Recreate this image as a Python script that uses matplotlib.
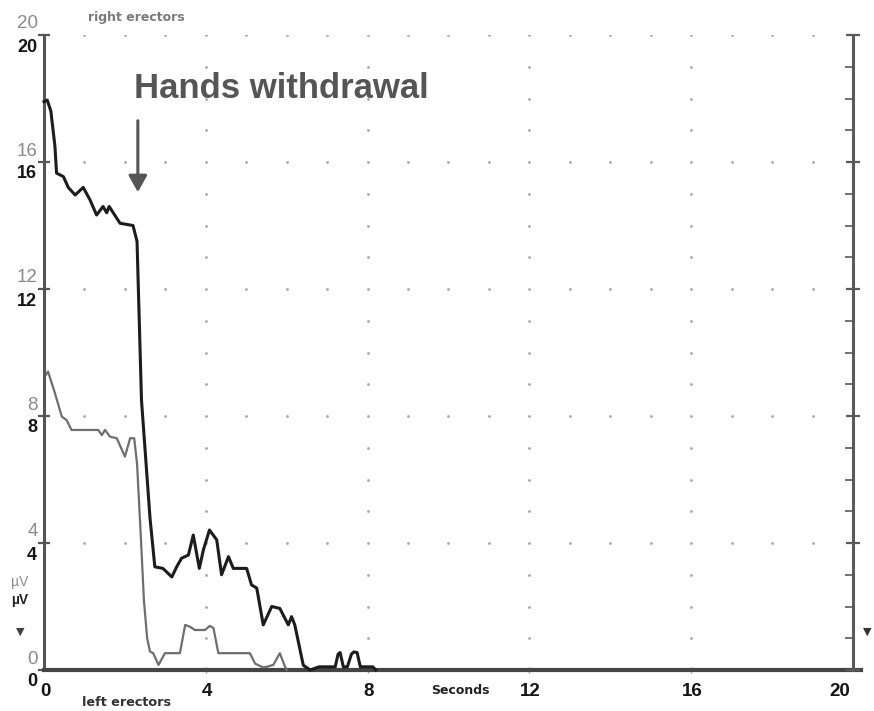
"""
EMG of the erector spinae before and after hands withdrawal.
Redraws the two traces (right / left erectors) on a dotted grid.
"""

import numpy as np
import matplotlib
matplotlib.use("Agg")
import matplotlib.pyplot as plt

W, H = 874, 711

# right erectors (dark trace), seconds / microvolts
right_t = [0.0, 0.08, 0.17, 0.27, 0.31, 0.48, 0.60, 0.77, 0.97, 1.14, 1.30, 1.46, 1.55,
           1.61, 1.88, 2.20, 2.30, 2.41, 2.62, 2.74, 2.94, 3.16, 3.28, 3.40, 3.57, 3.69,
           3.84, 3.94, 4.09, 4.27, 4.39, 4.56, 4.68, 5.01, 5.13, 5.26, 5.42, 5.63, 5.83,
           6.04, 6.12, 6.20, 6.41, 6.58, 6.80, 7.20, 7.27, 7.32, 7.40, 7.50, 7.60, 7.66,
           7.74, 7.82, 8.13, 8.20]
right_uv = [17.9, 17.95, 17.6, 16.5, 15.65, 15.54, 15.2, 14.96, 15.2, 14.8, 14.33, 14.6,
            14.4, 14.6, 14.07, 14.0, 13.5, 8.5, 4.8, 3.25, 3.2, 2.93, 3.25, 3.52, 3.62,
            4.25, 3.2, 3.78, 4.41, 4.1, 3.0, 3.57, 3.2, 3.2, 2.68, 2.58, 1.42, 2.0, 1.94,
            1.42, 1.68, 1.42, 0.15, 0.0, 0.1, 0.1, 0.5, 0.55, 0.1, 0.1, 0.5, 0.57, 0.55,
            0.1, 0.1, 0.0]

# left erectors (grey trace)
left_t = [0.05, 0.10, 0.27, 0.44, 0.56, 0.68, 1.34, 1.43, 1.51, 1.63, 1.80, 2.00, 2.13,
          2.23, 2.30, 2.39, 2.47, 2.55, 2.62, 2.70, 2.83, 2.99, 3.36, 3.49, 3.61, 3.73,
          3.98, 4.10, 4.19, 4.31, 5.09, 5.22, 5.42, 5.50, 5.67, 5.83, 5.96, 6.00]
left_uv = [9.3, 9.4, 8.72, 7.98, 7.87, 7.56, 7.56, 7.4, 7.56, 7.35, 7.3, 6.72, 7.3,
           7.3, 6.5, 4.3, 2.2, 1.0, 0.58, 0.53, 0.16, 0.53, 0.53, 1.42, 1.36, 1.26,
           1.26, 1.39, 1.32, 0.53, 0.53, 0.2, 0.08, 0.1, 0.16, 0.53, 0.1, 0.0]

x_ticks = [0, 4, 8, 12, 16, 20]
x_labels = ["0", "4", "8", "12", "16", "20"]
y_ticks = [0, 4, 8, 12, 16, 20]
y_labels = ["0", "4", "8", "12", "16", "20"]

event_t = 2.32
event_label = "Hands withdrawal"

plt.rcParams["font.family"] = ["Liberation Sans", "DejaVu Sans"]


def fig_xy(px, py):
    # pixel position measured from the top-left corner -> figure fraction
    return px / W, 1 - py / H


fig = plt.figure(figsize=(W / 100, H / 100), dpi=100)
ax = fig.add_axes([44 / W, 41 / H, 809 / W, 635 / H])
ax.set_xlim(0, 20)
ax.set_ylim(0, 20)

# dotted grid: rows every 4 uV, columns every 4 s
gx, gy = [], []
for yv in range(4, 21, 4):
    for xv in range(1, 20):
        gx.append(xv)
        gy.append(yv)
for xv in range(4, 20, 4):
    for yv in range(1, 20):
        if yv % 4:
            gx.append(xv)
            gy.append(yv)
ax.scatter(gx, gy, s=4, color="#a8a8a8", linewidths=0, zorder=1)

ax.plot(left_t, left_uv, color="#6e6e6e", lw=1.6, zorder=3, clip_on=False)
ax.plot(right_t, right_uv, color="#1c1c1c", lw=2.2, zorder=4, clip_on=False)

# spines
for side in ["top", "right"]:
    ax.spines[side].set_visible(False)
ax.spines["left"].set_color("#555555")
ax.spines["left"].set_linewidth(2.2)
ax.spines["bottom"].set_color("#454545")
ax.spines["bottom"].set_linewidth(3.0)
ax.spines["bottom"].set_bounds(0, 20.2)

ax.set_yticks(y_ticks)
ax.set_yticklabels([])
ax.tick_params(axis="y", direction="inout", length=8, width=1.6, color="#555555")
ax.set_xticks(x_ticks[1:-1])
ax.set_xticklabels([])
ax.tick_params(axis="x", direction="inout", length=5, width=1.0, color="#999999")

# right scale with minor ticks
ax2 = ax.twinx()
ax2.set_ylim(0, 20)
for side in ["top", "left", "bottom"]:
    ax2.spines[side].set_visible(False)
ax2.spines["right"].set_color("#5a5a5a")
ax2.spines["right"].set_linewidth(2.2)
ax2.set_yticks(y_ticks)
ax2.set_yticks(range(0, 21), minor=True)
ax2.set_yticklabels([])
ax2.tick_params(axis="y", which="major", direction="inout", length=10, width=1.6,
                color="#5a5a5a")
ax2.tick_params(axis="y", which="minor", direction="in", length=6, width=1.2,
                color="#5a5a5a")

# double y labels: grey above each tick, black below
for v, lab in zip(y_ticks, y_labels):
    ax.annotate(lab, xy=(0, v), xycoords=("axes fraction", "data"),
                xytext=(-6, 11), textcoords="offset pixels", ha="right", va="center",
                fontsize=13.5, color="#8a8a8a", annotation_clip=False)
    ax.annotate(lab, xy=(0, v), xycoords=("axes fraction", "data"),
                xytext=(-7, -12), textcoords="offset pixels", ha="right", va="center",
                fontsize=13, fontweight="bold", color="#151515", annotation_clip=False)

for v, lab in zip(x_ticks, x_labels):
    ha = "right" if v == 20 else "center"
    dx = -3 if v == 20 else 1
    ax.annotate(lab, xy=(v, 0), xycoords=("data", "axes fraction"),
                xytext=(dx, -21), textcoords="offset pixels", ha=ha, va="center",
                fontsize=13.5, fontweight="bold", color="#151515", annotation_clip=False)

fig.text(*fig_xy(460, 691), "Seconds", ha="center", va="center", fontsize=9,
         fontweight="bold", family="DejaVu Sans", color="#222222")
fig.text(*fig_xy(127, 702), "left erectors", ha="center", va="center", fontsize=9.2,
         fontweight="bold", family="DejaVu Sans", color="#333333")
fig.text(*fig_xy(136, 18), "right erectors", ha="center", va="center", fontsize=9,
         fontweight="bold", family="DejaVu Sans", color="#7a7a7a")

fig.text(*fig_xy(20, 582), "\u00b5V", ha="center", va="center", fontsize=10,
         color="#8a8a8a")
fig.text(*fig_xy(20, 600), "\u00b5V", ha="center", va="center", fontsize=10,
         fontweight="bold", color="#222222")
fig.text(*fig_xy(20, 632), "\u25bc", ha="center", va="center", fontsize=8,
         family="DejaVu Sans", color="#444444")
fig.text(*fig_xy(863, 632), "\u25bc", ha="left", va="center", fontsize=8,
         family="DejaVu Sans", color="#333333")

# event marker
fig.text(*fig_xy(281, 89), event_label, ha="center", va="center", fontsize=25,
         fontweight="bold", color="#555555")
ax.annotate("", xy=(event_t, 15.05), xytext=(event_t, 17.3),
            arrowprops=dict(arrowstyle="-|>,head_length=0.5,head_width=0.28",
                            mutation_scale=20, color="#555555", lw=2.2,
                            shrinkA=0, shrinkB=0),
            annotation_clip=False)

fig.savefig("out.png", dpi=100)
plt.close(fig)
